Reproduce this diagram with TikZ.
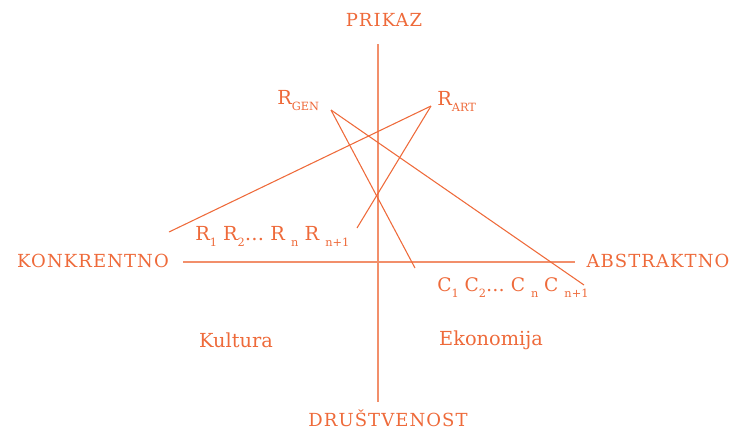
\documentclass[tikz,border=0pt]{standalone}
\usepackage{fontspec}
\setmainfont{DejaVu Serif}
\definecolor{orng}{HTML}{EE6A3A}
\newcommand{\lowsb}[1]{\raisebox{-4.5pt}{\fontsize{8.5}{9}\selectfont #1}}
\begin{document}
\begin{tikzpicture}[x=0.75pt,y=-0.75pt,
  lbl/.style={text=orng,font=\fontsize{14.5}{17}\selectfont,inner sep=0pt},
  caplbl/.style={lbl,font=\fontsize{13.5}{16}\selectfont\addfontfeatures{LetterSpace=6}},
  ln/.style={draw=orng,line width=0.8pt},
  axis/.style={draw=orng!75,line width=0.8pt}]
\useasboundingbox (0,0) rectangle (736,430);
% axes
\coordinate (vt) at (378,44);
\coordinate (vb) at (378,402);
\coordinate (hl) at (183,262);
\coordinate (hr) at (575,262);
\draw[axis] (vt) -- (vb);
\draw[axis] (hl) -- (hr);
% axis labels
\node[caplbl] (prikaz) at (384,20) {PRIKAZ};
\node[caplbl] (drustvenost) at (388,418) {DRUŠTVENOST};
\node[caplbl] (konkretno) at (93,261) {KONKRENTNO};
\node[caplbl] (abstraktno) at (658,261) {ABSTRAKTNO};
% R nodes
\node[lbl,anchor=west] (rgen) at (277,101) {R\lowsb{GEN}};
\node[lbl,anchor=west] (rart) at (437,101) {R\lowsb{ART}};
\node[lbl,anchor=west] (rrow) at (195,236) {R\lowsb{1} R\lowsb{2}… R \lowsb{n} R \lowsb{n+1}};
\node[lbl,anchor=west,font=\fontsize{14}{17}\selectfont] (crow) at (437,288) {C\lowsb{1} C\lowsb{2}… C \lowsb{n} C \lowsb{n+1}};
\node[lbl] (kultura) at (236,340) {Kultura};
\node[lbl] (ekonomija) at (491,340) {Ekonomija};
% connector ends
\coordinate (ga) at (331,110);
\coordinate (aa) at (431,106);
\coordinate (g1) at (415,268);
\coordinate (g2) at (584,285);
\coordinate (a1) at (169,232);
\coordinate (a2) at (357,228);
\draw[ln] (ga) -- (g1);
\draw[ln] (ga) -- (g2);
\draw[ln] (aa) -- (a1);
\draw[ln] (aa) -- (a2);
\end{tikzpicture}
\end{document}
